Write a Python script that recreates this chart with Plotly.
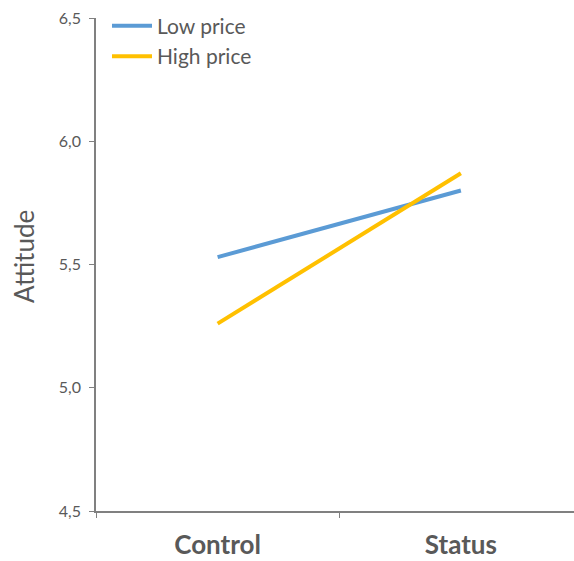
import plotly.graph_objects as go

categories = ["Control", "Status"]
low_price = [5.53, 5.80]
high_price = [5.26, 5.87]
y_ticks = [4.5, 5.0, 5.5, 6.0, 6.5]
y_tick_labels = ["4,5", "5,0", "5,5", "6,0", "6,5"]
y_title = "Attitude"

fig = go.Figure()
fig.add_trace(go.Scatter(x=categories, y=low_price, mode="lines", name="Low price",
                         line=dict(color="#5B9BD5", width=4)))
fig.add_trace(go.Scatter(x=categories, y=high_price, mode="lines", name="High price",
                         line=dict(color="#FFC000", width=4)))

fig.update_layout(
    width=574, height=561,
    margin=dict(l=96, r=0, t=18, b=50, autoexpand=False),
    paper_bgcolor="white", plot_bgcolor="white",
    font=dict(family="Lato, Open Sans, sans-serif", color="#595959"),
    showlegend=True,
    legend=dict(x=0.023, y=1.025, xanchor="left", yanchor="top",
                font=dict(size=21, color="#595959"), bgcolor="rgba(0,0,0,0)",
                itemwidth=40),
    xaxis=dict(type="category", range=[-0.5, 1.465], showline=True, linecolor="#808080",
               linewidth=1.5, ticks="outside", tickson="boundaries", ticklen=5,
               tickcolor="#808080", showgrid=False, zeroline=False, automargin=False,
               tickfont=dict(size=26, color="#595959", family="Lato, sans-serif"),
               ticklabelstandoff=10),
    yaxis=dict(range=[4.5, 6.5], tickvals=y_ticks, ticktext=y_tick_labels,
               showline=True, linecolor="#808080", linewidth=1.5, ticks="outside",
               ticklen=5, tickcolor="#808080", showgrid=False, zeroline=False,
               automargin=False, ticklabelstandoff=5,
               tickfont=dict(size=16, color="#595959")),
    annotations=[dict(text=y_title, textangle=-90, xref="paper", yref="paper",
                      x=-0.151, y=0.517, xanchor="center", yanchor="middle",
                      showarrow=False, font=dict(size=26, color="#595959"))],
)
fig.update_xaxes(tickprefix="<b>", ticksuffix="</b>")

fig.write_html("out.html", config={"displayModeBar": False},
               post_script="document.body.style.margin='0';document.body.style.overflow='hidden';")
